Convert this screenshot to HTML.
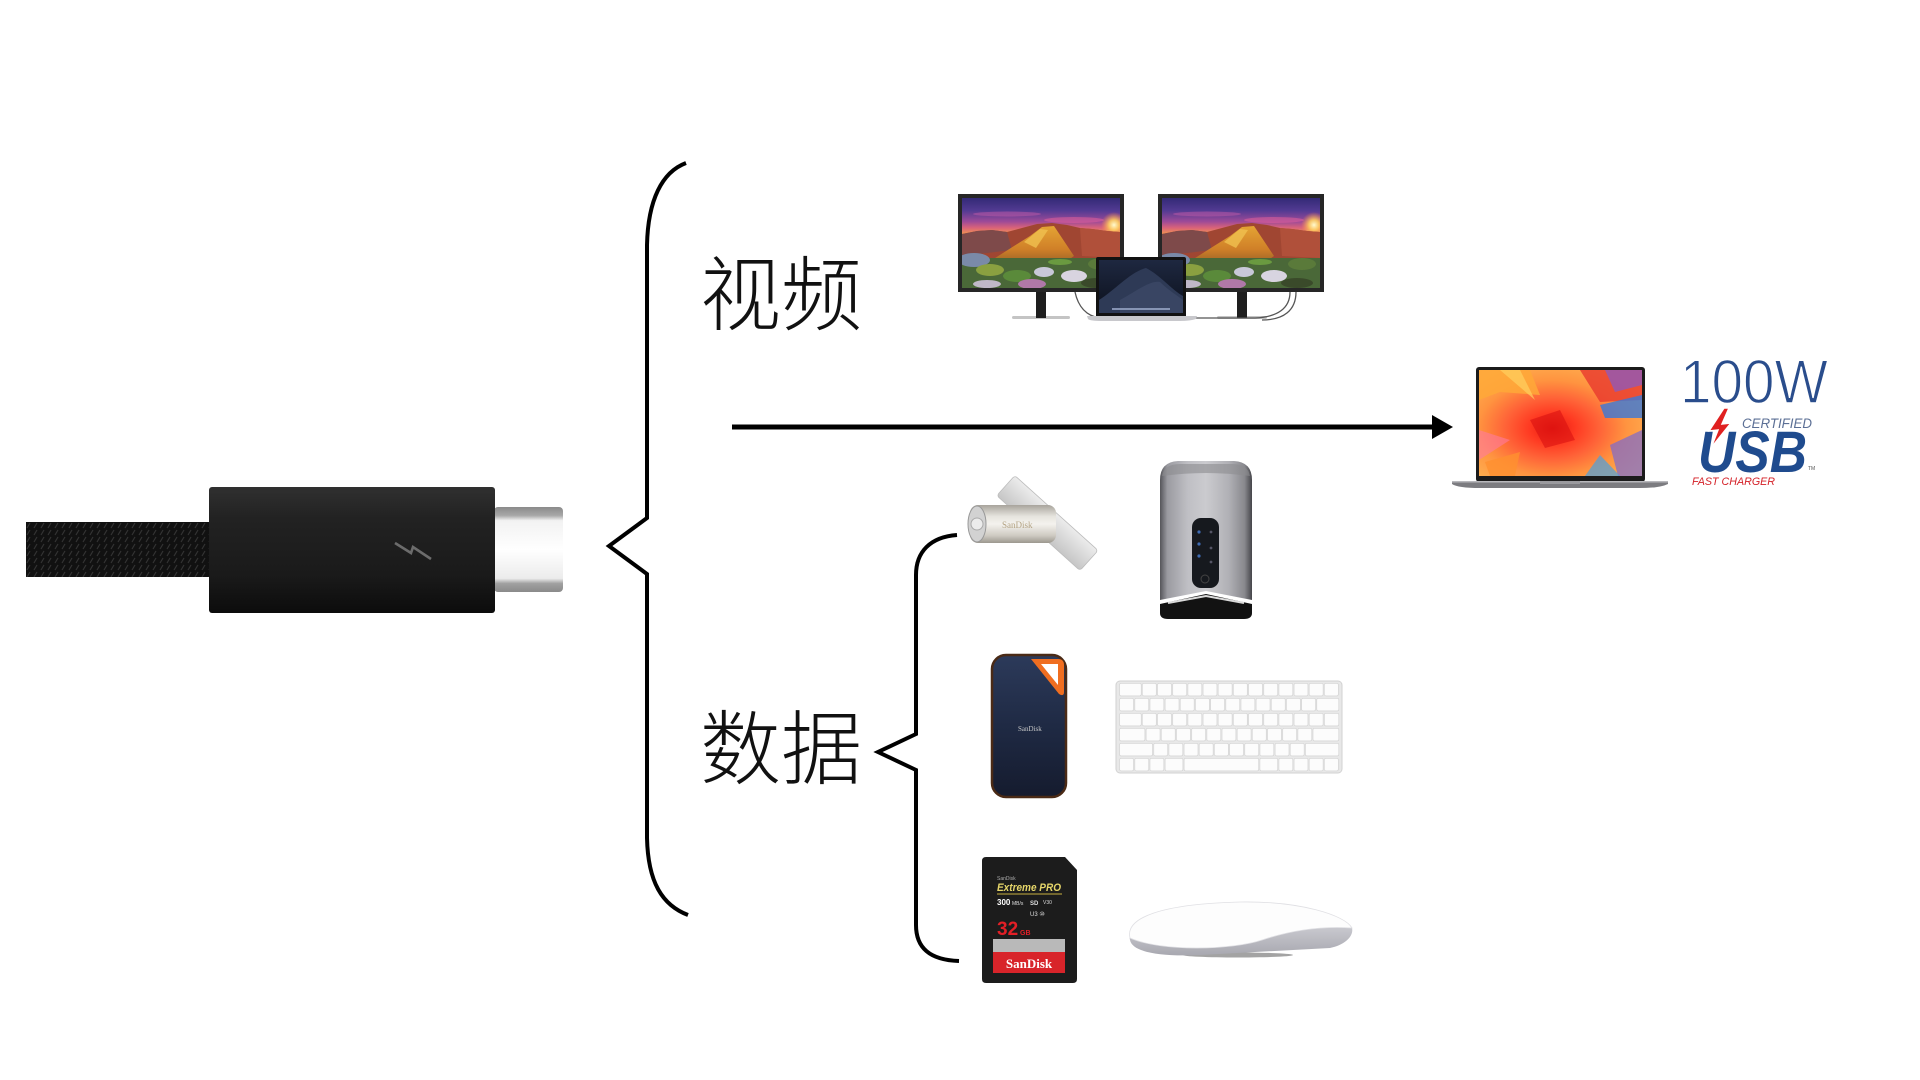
<!DOCTYPE html>
<html><head><meta charset="utf-8"><style>
html,body{margin:0;padding:0;background:#fff;width:1920px;height:1080px;overflow:hidden}
svg{display:block}
</style></head><body>
<svg width="1920" height="1080" viewBox="0 0 1920 1080" xmlns="http://www.w3.org/2000/svg">
<defs>
<linearGradient id="plugG" x1="0" y1="0" x2="0" y2="1">
<stop offset="0" stop-color="#303030"/><stop offset="0.25" stop-color="#222"/><stop offset="0.7" stop-color="#1a1a1a"/><stop offset="1" stop-color="#0c0c0c"/></linearGradient>
<linearGradient id="tipG" x1="0" y1="0" x2="0" y2="1">
<stop offset="0" stop-color="#8a8a8a"/><stop offset="0.1" stop-color="#a8a8a8"/><stop offset="0.16" stop-color="#f2f2f2"/><stop offset="0.5" stop-color="#fff"/><stop offset="0.84" stop-color="#ececec"/><stop offset="0.9" stop-color="#a0a0a0"/><stop offset="1" stop-color="#8a8a8a"/></linearGradient>
<pattern id="braid" x="26" y="522" width="7" height="7" patternUnits="userSpaceOnUse">
<rect width="7" height="7" fill="#141414"/><path d="M1,6 L4,1" stroke="#3c3c3c" stroke-width="1.2"/></pattern>
<linearGradient id="sky" x1="0" y1="0" x2="0" y2="1">
<stop offset="0" stop-color="#332a76"/><stop offset="0.14" stop-color="#523a92"/><stop offset="0.26" stop-color="#9c4a98"/><stop offset="0.33" stop-color="#d8627a"/><stop offset="0.4" stop-color="#f09450"/></linearGradient>
<radialGradient id="sun" cx="0.5" cy="0.5" r="0.5">
<stop offset="0" stop-color="#fffbd0"/><stop offset="0.4" stop-color="#ffd060" stop-opacity="0.9"/><stop offset="1" stop-color="#ff9040" stop-opacity="0"/></radialGradient>
<linearGradient id="mtn" x1="0" y1="0" x2="0" y2="1">
<stop offset="0" stop-color="#e4a434"/><stop offset="0.55" stop-color="#d08028"/><stop offset="1" stop-color="#8a5a28"/></linearGradient>
<symbol id="land" viewBox="0 0 158 90" preserveAspectRatio="none">
<rect width="158" height="90" fill="url(#sky)"/>
<ellipse cx="45" cy="16" rx="34" ry="2.5" fill="#c05aa8" opacity="0.5"/>
<ellipse cx="112" cy="22" rx="30" ry="3" fill="#e0609a" opacity="0.55"/>
<circle cx="152" cy="27" r="13" fill="url(#sun)"/>
<path d="M0,36 L15,33 L30,32 L45,34 L60,30 L75,26 L90,25 L105,27 L118,30 L130,31 L145,33 L158,34 L158,70 L0,70 Z" fill="#a04632"/>
<path d="M0,36 L15,33 L30,32 L45,34 L50,52 L0,58 Z" fill="#7e4a4a"/>
<path d="M118,30 L130,31 L145,33 L158,34 L158,60 L120,58 Z" fill="#b0503a"/>
<path d="M30,62 L52,48 L68,38 L80,29 L92,28 L100,40 L112,58 L95,70 L40,70 Z" fill="url(#mtn)"/>
<path d="M62,44 L78,31 L86,32 L74,50 Z" fill="#f0c050" opacity="0.8"/>
<rect x="0" y="60" width="158" height="30" fill="#4a6838"/>
<ellipse cx="12" cy="62" rx="16" ry="7" fill="#7a8aa8"/>
<ellipse cx="28" cy="72" rx="14" ry="6" fill="#8aa040"/>
<ellipse cx="55" cy="78" rx="14" ry="6" fill="#5a8a3a"/>
<ellipse cx="82" cy="74" rx="10" ry="5" fill="#c8c8d8"/>
<ellipse cx="112" cy="78" rx="13" ry="6" fill="#d8d4e0"/>
<ellipse cx="140" cy="66" rx="14" ry="6" fill="#5a7a3a"/>
<ellipse cx="70" cy="86" rx="14" ry="5" fill="#b078a8"/>
<ellipse cx="25" cy="86" rx="14" ry="4" fill="#c0b8c8"/>
<ellipse cx="135" cy="85" rx="16" ry="5" fill="#3a4a2a"/>
<ellipse cx="98" cy="64" rx="12" ry="3" fill="#6a9a40"/>
</symbol>
<linearGradient id="mbScr" x1="0" y1="0" x2="0" y2="1">
<stop offset="0" stop-color="#1e2840"/><stop offset="1" stop-color="#0c101c"/></linearGradient>
<radialGradient id="boom" cx="0.45" cy="0.55" r="0.65">
<stop offset="0" stop-color="#e81810"/><stop offset="0.22" stop-color="#ff3a22"/><stop offset="0.45" stop-color="#ff6438"/><stop offset="0.7" stop-color="#ff9440"/><stop offset="1" stop-color="#ffb050"/></radialGradient>
<clipPath id="rmClip"><rect x="1479" y="370" width="163" height="106"/></clipPath>
<linearGradient id="plateG" x1="0" y1="0" x2="0" y2="1">
<stop offset="0" stop-color="#ececec"/><stop offset="1" stop-color="#c6c6c6"/></linearGradient>
<linearGradient id="bodyG" x1="0" y1="0" x2="0" y2="1">
<stop offset="0" stop-color="#a8a49c"/><stop offset="0.3" stop-color="#e6e4de"/><stop offset="0.5" stop-color="#f4f2ee"/><stop offset="0.8" stop-color="#cfcbc3"/><stop offset="1" stop-color="#9c988f"/></linearGradient>
<linearGradient id="egpuG" x1="0" y1="0" x2="1" y2="0">
<stop offset="0" stop-color="#55555a"/><stop offset="0.08" stop-color="#9a9aa0"/><stop offset="0.3" stop-color="#bfbfc4"/><stop offset="0.5" stop-color="#cbcbcf"/><stop offset="0.75" stop-color="#b0b0b5"/><stop offset="0.92" stop-color="#88888d"/><stop offset="1" stop-color="#45454a"/></linearGradient>
<linearGradient id="ssdG" x1="0" y1="0" x2="0" y2="1">
<stop offset="0" stop-color="#2c3a5a"/><stop offset="0.5" stop-color="#1f2a44"/><stop offset="1" stop-color="#151b2e"/></linearGradient>
<pattern id="k0" x="1119" y="683" width="15.17" height="15" patternUnits="userSpaceOnUse"><rect x="0.6" y="0.3" width="13.9" height="12.6" rx="1.5" fill="#fcfcfc" stroke="#d0d0d0" stroke-width="0.6"/></pattern>
<pattern id="k5" x="1126.585" y="683" width="15.17" height="15" patternUnits="userSpaceOnUse"><rect x="0.6" y="0.3" width="13.9" height="12.6" rx="1.5" fill="#fcfcfc" stroke="#d0d0d0" stroke-width="0.6"/></pattern>
<pattern id="k75" x="1130.38" y="683" width="15.17" height="15" patternUnits="userSpaceOnUse"><rect x="0.6" y="0.3" width="13.9" height="12.6" rx="1.5" fill="#fcfcfc" stroke="#d0d0d0" stroke-width="0.6"/></pattern>
<pattern id="k25" x="1122.79" y="683" width="15.17" height="15" patternUnits="userSpaceOnUse"><rect x="0.6" y="0.3" width="13.9" height="12.6" rx="1.5" fill="#fcfcfc" stroke="#d0d0d0" stroke-width="0.6"/></pattern>
<linearGradient id="mouseG" x1="0" y1="0" x2="0" y2="1">
<stop offset="0" stop-color="#e6e6ea"/><stop offset="1" stop-color="#a8a8b0"/></linearGradient>
</defs>

<rect width="1920" height="1080" fill="#fff"/>

<!-- cable -->
<rect x="26" y="522" width="185" height="55" fill="url(#braid)"/>
<rect x="26" y="522" width="185" height="55" fill="#000" opacity="0.15"/>
<rect x="494" y="507" width="69" height="85" rx="4" fill="url(#tipG)"/>
<rect x="209" y="487" width="286" height="126" rx="3" fill="url(#plugG)"/>
<path d="M395,543 L411,553 L413,547 L431,559" fill="none" stroke="#6c6c6c" stroke-width="2.6" stroke-linejoin="miter"/>

<!-- braces -->
<path d="M686,163 C662,172 648,200 647,245 L647,518 L609,546 L647,574 L647,838 C648,882 662,905 688,915" fill="none" stroke="#000" stroke-width="4"/>
<path d="M957,535 C930,537 916,552 916,575 L916,734 L878,752 L916,770 L916,925 C916,948 930,960 959,961" fill="none" stroke="#000" stroke-width="4"/>

<!-- labels -->
<text x="700" y="324" font-family="Liberation Sans, Noto Sans CJK SC, sans-serif" font-size="81" font-weight="300" fill="#111">视频</text>
<text x="700" y="778" font-family="Liberation Sans, Noto Sans CJK SC, sans-serif" font-size="81" font-weight="300" fill="#111">数据</text>

<!-- arrow -->
<line x1="732" y1="427" x2="1436" y2="427" stroke="#000" stroke-width="5"/>
<polygon points="1432,415 1453,427 1432,439" fill="#000"/>

<!-- monitors -->
<rect x="1012" y="316" width="58" height="3" rx="1.5" fill="#c4c4c4"/>
<rect x="1217" y="316" width="50" height="3" rx="1.5" fill="#c4c4c4"/>
<rect x="1036" y="290" width="10" height="28" fill="#1e1e1e"/>
<rect x="1237" y="290" width="10" height="28" fill="#1e1e1e"/>
<rect x="958" y="194" width="166" height="98" fill="#262626"/>
<rect x="1158" y="194" width="166" height="98" fill="#262626"/>
<use href="#land" x="962" y="198" width="158" height="90"/>
<use href="#land" x="1162" y="198" width="158" height="90"/>
<path d="M1075,292 C1078,306 1086,316 1100,318" fill="none" stroke="#555" stroke-width="1.3"/>
<path d="M1290,292 C1290,308 1278,317 1255,318 L1186,318" fill="none" stroke="#555" stroke-width="1.3"/>
<path d="M1296,292 C1296,310 1284,320 1262,320" fill="none" stroke="#555" stroke-width="1.3"/>
<!-- macbook -->
<rect x="1096" y="257" width="90" height="61" rx="2" fill="#121212"/>
<rect x="1099" y="260" width="84" height="53" fill="url(#mbScr)"/>
<path d="M1099,300 C1115,290 1130,272 1146,268 C1160,275 1172,290 1183,296 L1183,313 L1099,313 Z" fill="#2e3a56"/>
<path d="M1120,300 C1135,292 1150,280 1160,282 C1168,290 1178,296 1183,300 L1183,313 L1120,313 Z" fill="#3c4866" opacity="0.8"/>
<rect x="1112" y="308" width="58" height="2" fill="#9aa8c8" opacity="0.8"/>
<path d="M1087,316 L1197,316 L1196,319 Q1190,321 1180,321 L1102,321 Q1090,321 1088,319 Z" fill="#c8c8cc"/>

<!-- Redmi laptop -->
<rect x="1476" y="367" width="169" height="115" rx="3" fill="#1b1b1b"/>
<g clip-path="url(#rmClip)">
<rect x="1479" y="370" width="163" height="106" fill="url(#boom)"/>
<polygon points="1479,370 1530,370 1540,395 1500,392 1479,400" fill="#ffa838" opacity="0.85"/>
<polygon points="1500,370 1520,370 1535,400" fill="#ffd060" opacity="0.7"/>
<polygon points="1580,370 1642,370 1642,400 1600,402" fill="#e8382e" opacity="0.8"/>
<polygon points="1605,370 1642,370 1642,385 1615,392" fill="#8a5ac0" opacity="0.75"/>
<polygon points="1600,405 1642,395 1642,418 1605,418" fill="#3a78d8" opacity="0.8"/>
<polygon points="1610,445 1642,430 1642,476 1618,476" fill="#7a6ad0" opacity="0.7"/>
<polygon points="1585,476 1600,455 1620,476" fill="#4aa0e0" opacity="0.7"/>
<polygon points="1479,430 1510,440 1479,460" fill="#ff7aa0" opacity="0.6"/>
<polygon points="1485,462 1520,452 1515,476 1490,476" fill="#ff9030" opacity="0.8"/>
<polygon points="1530,420 1560,410 1575,440 1545,448" fill="#d81010" opacity="0.6"/>
</g>
<path d="M1452,481 L1668,481 L1668,484 Q1660,488 1640,488 L1480,488 Q1458,488 1452,484 Z" fill="#7c7c80"/>
<rect x="1452" y="481" width="216" height="1.5" fill="#b8b8bc"/>
<rect x="1540" y="481" width="40" height="3" fill="#9a9a9e"/>

<!-- USB logo -->
<text x="1680" y="403" font-family="Liberation Sans, sans-serif" font-size="62" fill="#2a4d8c" stroke="#fff" stroke-width="1.4" textLength="148" lengthAdjust="spacingAndGlyphs">100W</text>
<text x="1742" y="428" font-family="Liberation Sans, sans-serif" font-size="13.5" font-style="italic" fill="#5b6f95" textLength="70" lengthAdjust="spacingAndGlyphs">CERTIFIED</text>
<text x="1698" y="472" font-family="Liberation Sans, sans-serif" font-size="58" font-weight="bold" font-style="italic" fill="#1f4b8e" textLength="109" lengthAdjust="spacingAndGlyphs">USB</text>
<polygon points="1724,408 1709,431 1718,430 1711,448 1731,423 1722,424 1729,408" fill="#e02020" stroke="#fff" stroke-width="1.5"/>
<text x="1808" y="470" font-family="Liberation Sans, sans-serif" font-size="5" fill="#555">TM</text>
<text x="1692" y="485" font-family="Liberation Sans, sans-serif" font-size="11" font-style="italic" fill="#d42027" textLength="83" lengthAdjust="spacingAndGlyphs">FAST CHARGER</text>

<!-- flash drive -->
<rect x="992" y="509" width="112" height="27" rx="3" transform="rotate(42 1047 522)" fill="url(#plateG)" stroke="#bcbcbc" stroke-width="0.8"/>
<rect x="970" y="505" width="86" height="38" rx="8" fill="url(#bodyG)"/>
<ellipse cx="977" cy="524" rx="9" ry="18" fill="#d2d2d2" stroke="#999" stroke-width="1"/>
<circle cx="977" cy="524" r="6" fill="#ececec" stroke="#aaa" stroke-width="1"/>
<text x="1002" y="528" font-family="Liberation Serif, serif" font-size="9" fill="#b4a484">SanDisk</text>

<!-- eGPU -->
<path d="M1160,604 L1206,594 L1252,604 L1252,613 Q1252,619 1244,619 L1168,619 Q1160,619 1160,613 Z" fill="#121212"/>
<path d="M1160,600 L1160,480 Q1160,462 1178,461 L1234,461 Q1252,462 1252,480 L1252,600 L1206,591 Z" fill="url(#egpuG)"/>
<path d="M1162,476 Q1164,464 1180,464 L1232,464 Q1248,464 1250,476 Q1206,470 1162,476 Z" fill="#8c8c90" opacity="0.6"/>
<path d="M1168,603 L1206,596 L1244,603" fill="none" stroke="#dadada" stroke-width="2"/>
<rect x="1192" y="518" width="27" height="70" rx="9" fill="#16191e"/>
<circle cx="1199" cy="532" r="1.6" fill="#3d6ab2"/><circle cx="1199" cy="544" r="1.6" fill="#3d6ab2"/><circle cx="1199" cy="556" r="1.6" fill="#3d6ab2"/>
<circle cx="1211" cy="532" r="1.4" fill="#556"/><circle cx="1211" cy="548" r="1.4" fill="#556"/><circle cx="1211" cy="562" r="1.4" fill="#556"/>
<circle cx="1205" cy="579" r="4" fill="none" stroke="#444" stroke-width="1"/>

<!-- SSD -->
<rect x="992" y="655" width="74" height="142" rx="14" fill="url(#ssdG)" stroke="#4a2a16" stroke-width="2.5"/>
<path d="M1031,659 L1058,659 Q1064,659 1064,665 L1064,692 Q1064,697 1059,694 Z" fill="#f06e20"/>
<path d="M1041,664 L1058,664 L1058,685 Z" fill="#fff"/>
<text x="1018" y="731" font-family="Liberation Serif, serif" font-size="7" fill="#c8c8c8">SanDisk</text>

<!-- keyboard -->
<rect x="1116" y="681" width="226" height="92" rx="4" fill="#e8e8e8" stroke="#d2d2d2" stroke-width="1"/>
<rect x="1119.6" y="683.3" width="21.6" height="12.6" rx="1.5" fill="#fcfcfc" stroke="#d0d0d0" stroke-width="0.6"/>
<rect x="1141.75" y="683" width="197.5" height="13.5" fill="url(#k5)"/>
<rect x="1119" y="698" width="197.2" height="13.5" fill="url(#k0)"/>
<rect x="1316.8" y="698.3" width="22" height="12.6" rx="1.5" fill="#fcfcfc" stroke="#d0d0d0" stroke-width="0.6"/>
<rect x="1119.6" y="713.3" width="21.6" height="12.6" rx="1.5" fill="#fcfcfc" stroke="#d0d0d0" stroke-width="0.6"/>
<rect x="1141.75" y="713" width="182.1" height="13.5" fill="url(#k5)"/>
<rect x="1324.4" y="713.3" width="14.4" height="12.6" rx="1.5" fill="#fcfcfc" stroke="#d0d0d0" stroke-width="0.6"/>
<rect x="1119.6" y="728.3" width="25.3" height="12.6" rx="1.5" fill="#fcfcfc" stroke="#d0d0d0" stroke-width="0.6"/>
<rect x="1145.5" y="728" width="166.9" height="13.5" fill="url(#k75)"/>
<rect x="1313" y="728.3" width="25.8" height="12.6" rx="1.5" fill="#fcfcfc" stroke="#d0d0d0" stroke-width="0.6"/>
<rect x="1119.6" y="743.3" width="32.9" height="12.6" rx="1.5" fill="#fcfcfc" stroke="#d0d0d0" stroke-width="0.6"/>
<rect x="1153.1" y="743" width="151.7" height="13.5" fill="url(#k25)"/>
<rect x="1305.4" y="743.3" width="33.4" height="12.6" rx="1.5" fill="#fcfcfc" stroke="#d0d0d0" stroke-width="0.6"/>
<rect x="1119" y="758" width="45.5" height="13.5" fill="url(#k0)"/>
<rect x="1165.1" y="758.3" width="17.8" height="12.6" rx="1.5" fill="#fcfcfc" stroke="#d0d0d0" stroke-width="0.6"/>
<rect x="1184.1" y="758.3" width="74.6" height="12.6" rx="1.5" fill="#fcfcfc" stroke="#d0d0d0" stroke-width="0.6"/>
<rect x="1259.9" y="758.3" width="17.8" height="12.6" rx="1.5" fill="#fcfcfc" stroke="#d0d0d0" stroke-width="0.6"/>
<rect x="1278.9" y="758.3" width="13.9" height="12.6" rx="1.5" fill="#fcfcfc" stroke="#d0d0d0" stroke-width="0.6"/>
<rect x="1293.4" y="758" width="45.8" height="13.5" fill="url(#k5)"/>

<!-- SD card -->
<path d="M986,857 L1065,857 L1077,870 L1077,979 Q1077,983 1073,983 L986,983 Q982,983 982,979 L982,861 Q982,857 986,857 Z" fill="#1c1c1c"/>
<text x="997" y="880" font-family="Liberation Sans, sans-serif" font-size="5" fill="#aaa">SanDisk</text>
<text x="997" y="891" font-family="Liberation Sans, sans-serif" font-size="11" font-weight="bold" font-style="italic" fill="#e6d66a" textLength="64" lengthAdjust="spacingAndGlyphs">Extreme PRO</text>
<rect x="997" y="893.5" width="65" height="1" fill="#c8b040"/>
<text x="997" y="905" font-family="Liberation Sans, sans-serif" font-size="8" font-weight="bold" fill="#fff">300</text>
<text x="1012" y="905" font-family="Liberation Sans, sans-serif" font-size="5" fill="#ddd">MB/s</text>
<text x="1030" y="905" font-family="Liberation Sans, sans-serif" font-size="6" font-weight="bold" fill="#ddd">SD</text>
<text x="1043" y="904" font-family="Liberation Sans, sans-serif" font-size="5" fill="#ddd">V30</text>
<text x="1030" y="916" font-family="Liberation Sans, sans-serif" font-size="6" fill="#ddd">U3 ⑩</text>
<text x="997" y="935" font-family="Liberation Sans, sans-serif" font-size="19" font-weight="bold" fill="#e21f26">32</text>
<text x="1020" y="935" font-family="Liberation Sans, sans-serif" font-size="7" font-weight="bold" fill="#e21f26">GB</text>
<rect x="993" y="939" width="72" height="13" fill="#b9b9b9"/>
<rect x="993" y="952" width="72" height="21" fill="#d8242a"/>
<text x="1029" y="968" text-anchor="middle" font-family="Liberation Serif, serif" font-size="13" font-weight="bold" fill="#fff">SanDisk</text>

<!-- mouse -->
<ellipse cx="1238" cy="955" rx="55" ry="2.5" fill="#666" opacity="0.6"/>
<path d="M1130,940 C1125,920 1160,905 1240,902 C1300,901 1345,915 1352,928 C1354,936 1345,945 1330,948 L1200,955 C1160,957 1132,952 1130,940 Z" fill="url(#mouseG)"/>
<path d="M1130,938 C1125,918 1160,904 1240,902 C1300,901 1345,915 1352,928 C1322,926 1292,930 1262,940 C1232,950 1162,952 1130,938 Z" fill="#fdfdfd" stroke="#e0e0e4" stroke-width="0.8"/>
</svg>
</body></html>
